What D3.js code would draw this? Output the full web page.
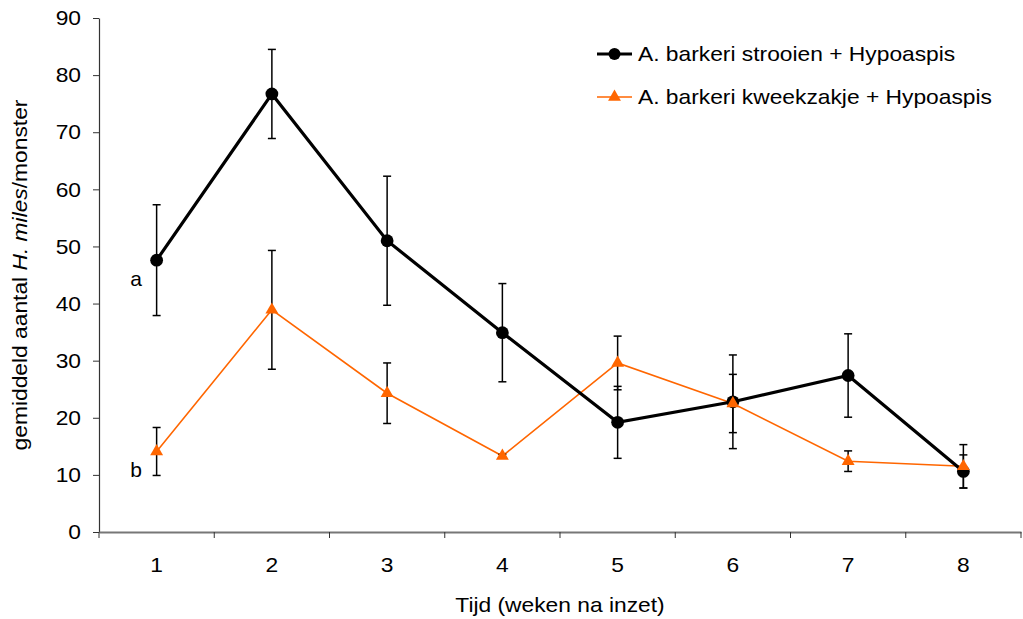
<!DOCTYPE html>
<html><head><meta charset="utf-8">
<script src="https://cdn.jsdelivr.net/npm/d3@7"></script>
<style>body{margin:0;background:#fff}svg{display:block;font-family:"Liberation Sans",Arial,sans-serif}</style>
</head><body><svg id="c" width="1023" height="619"></svg>
<script>
const weeks = ["1","2","3","4","5","6","7","8"];
const yTicks = [0,10,20,30,40,50,60,70,80,90];
const strooienMean = [47.6, 76.7, 51.0, 34.9, 19.2, 22.8, 27.4, 10.6];
const strooienErr  = [9.7, 7.8, 11.3, 8.6, 6.3, 8.2, 7.3, 2.9];
const kweekMean = [14.1, 38.9, 24.3, 13.3, 29.6, 22.5, 12.4, 11.5];
const kweekErr  = [4.2, 10.4, 5.3, 0.3, 4.7, 5.1, 1.8, 3.8];
const seriesNames = ["A. barkeri strooien + Hypoaspis", "A. barkeri kweekzakje + Hypoaspis"];
const letters = [{t:"a", v:44.3}, {t:"b", v:11.0}];

const FS = 21, STRETCH = 1.085;
const svg = d3.select("#c");
const x = d3.scaleBand().domain(weeks).range([99, 1021]);
const y = d3.scaleLinear().domain([0, 90]).range([532, 18]);
const cx = d => x(d) + x.bandwidth()/2;

function stretch(sel){
  sel.each(function(){
    const L = this.getComputedTextLength();
    d3.select(this).attr("textLength", L*STRETCH).attr("lengthAdjust","spacingAndGlyphs");
  });
}

// Y axis
const ya = svg.append("g").attr("transform","translate(99,0)")
  .call(d3.axisLeft(y).tickValues(yTicks).tickSize(6).tickSizeOuter(0).tickPadding(12));
ya.select(".domain").attr("stroke","#333").attr("stroke-width",1.2);
ya.selectAll(".tick line").attr("stroke","#333");
ya.selectAll("text").attr("font-size",FS).attr("fill","#000").attr("font-family","Liberation Sans, Arial, sans-serif").call(stretch);

// X axis
const xa = svg.append("g").attr("transform","translate(0,532)")
  .call(d3.axisBottom(x).tickSize(0).tickPadding(25));
xa.select(".domain").attr("stroke","#777").attr("stroke-width",2);
xa.selectAll("text").attr("font-size",FS).attr("fill","#000").attr("font-family","Liberation Sans, Arial, sans-serif").call(stretch);
const bounds = weeks.map(w => x(w)).concat([x(weeks[weeks.length-1]) + x.bandwidth()]);
svg.append("g").selectAll("line").data(bounds).join("line")
  .attr("x1", d=>d).attr("x2", d=>d).attr("y1",532).attr("y2",538)
  .attr("stroke","#333").attr("stroke-width",1);

// Axis titles
svg.append("text").attr("x",560).attr("y",612).attr("text-anchor","middle")
  .attr("font-size",FS).text("Tijd (weken na inzet)").call(stretch);
const yt = svg.append("text").attr("transform","translate(27,275) rotate(-90)")
  .attr("text-anchor","middle").attr("font-size",FS);
yt.append("tspan").text("gemiddeld aantal ");
yt.append("tspan").attr("font-style","italic").text("H. miles");
yt.append("tspan").text("/monster");
yt.call(stretch);

// letters
svg.append("g").selectAll("text").data(letters).join("text")
  .attr("x", 136).attr("y", d => y(d.v)).attr("dy","0.35em")
  .attr("text-anchor","middle").attr("font-size",FS).text(d=>d.t);

const orange = "#FF6600";
const kData = weeks.map((w,i)=>({w, m:kweekMean[i], e:kweekErr[i]}));
const sData = weeks.map((w,i)=>({w, m:strooienMean[i], e:strooienErr[i]}));
const line = d3.line().x(d=>cx(d.w)).y(d=>y(d.m));

function errorBars(data){
  const g = svg.append("g").attr("stroke","#000").attr("stroke-width",1.5);
  data.forEach(d=>{
    const X = cx(d.w), t = y(d.m + d.e), b = y(d.m - d.e);
    g.append("line").attr("x1",X).attr("x2",X).attr("y1",t).attr("y2",b);
    g.append("line").attr("x1",X-4).attr("x2",X+4).attr("y1",t).attr("y2",t);
    g.append("line").attr("x1",X-4).attr("x2",X+4).attr("y1",b).attr("y2",b);
  });
}

svg.append("path").datum(kData).attr("d",line).attr("fill","none")
  .attr("stroke",orange).attr("stroke-width",1.6);
svg.append("path").datum(sData).attr("d",line).attr("fill","none")
  .attr("stroke","#000").attr("stroke-width",3.2);
errorBars(sData);
errorBars(kData);
const tri = d3.symbol().type(d3.symbolTriangle).size(72);
svg.append("g").selectAll("circle").data(sData).join("circle")
  .attr("cx",d=>cx(d.w)).attr("cy",d=>y(d.m)).attr("r",6.4).attr("fill","#000");
svg.append("g").selectAll("path").data(kData).join("path")
  .attr("d",tri).attr("transform",d=>`translate(${cx(d.w)},${y(d.m)})`).attr("fill",orange);

// legend
const lg = svg.append("g");
[0,1].forEach(i=>{
  const yy = 54 + i*43;
  lg.append("line").attr("x1",597).attr("x2",632).attr("y1",yy).attr("y2",yy)
    .attr("stroke", i? orange : "#000").attr("stroke-width", i?1.6:3.2);
  if(i===0) lg.append("circle").attr("cx",614.5).attr("cy",yy).attr("r",6).attr("fill","#000");
  else lg.append("path").attr("d",tri).attr("transform",`translate(614.5,${yy})`).attr("fill",orange);
  lg.append("text").attr("x",638).attr("y",yy).attr("dy","0.35em").attr("font-size",FS).text(seriesNames[i]).call(stretch);
});
</script></body></html>
